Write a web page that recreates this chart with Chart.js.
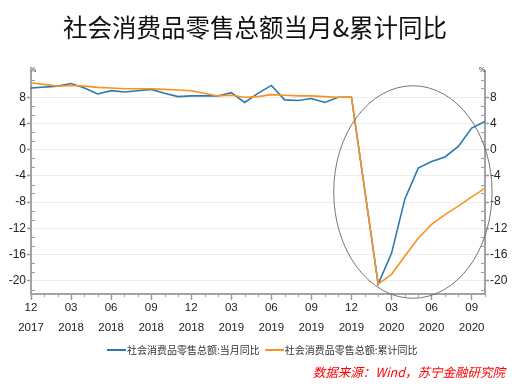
<!DOCTYPE html>
<html><head><meta charset="utf-8">
<script src="https://cdn.jsdelivr.net/npm/chart.js@4.4.0/dist/chart.umd.min.js"></script>
<style>
html,body{margin:0;padding:0;background:#fff;}
#wrap{position:relative;width:518px;height:387px;overflow:hidden;background:#fff;}
#c{position:absolute;left:0;top:0;}
#title{position:absolute;left:-4px;top:11px;width:518px;text-align:center;font:24.5px "Noto Sans CJK SC";color:#111;line-height:32px;white-space:nowrap;}
.pct{position:absolute;top:66px;font:bold 7px "Liberation Sans";color:#6a5a8a;}
#legend{position:absolute;left:107px;top:342px;font:10px "Noto Sans CJK SC";color:#333;white-space:nowrap;line-height:16px;}
#legend span.sw{display:inline-block;width:19px;height:2px;vertical-align:middle;margin-right:1px;position:relative;top:-1px;}
#legend .it{display:inline-block;margin-right:5px;}
#src{position:absolute;right:13px;top:363px;font:italic 12.5px "Noto Sans CJK SC";color:#ff0000;white-space:nowrap;line-height:18px;}
</style></head>
<body>
<div id="wrap">
<canvas id="c" width="518" height="387"></canvas>
<div id="title">社会消费品零售总额当月&amp;累计同比</div>
<div class="pct" style="left:30px">%</div>
<div class="pct" style="left:479px">%</div>
<div id="legend"><span class="it"><span class="sw" style="background:#2a7ab0"></span>社会消费品零售总额:当月同比</span><span class="it"><span class="sw" style="background:#f7931e"></span>社会消费品零售总额:累计同比</span></div>
<div id="src">数据来源：Wind，苏宁金融研究院</div>
</div>
<script>
const months = ['2017-12',
 '2018-01','2018-02','2018-03','2018-04','2018-05','2018-06','2018-07','2018-08','2018-09','2018-10','2018-11','2018-12',
 '2019-01','2019-02','2019-03','2019-04','2019-05','2019-06','2019-07','2019-08','2019-09','2019-10','2019-11','2019-12',
 '2020-01','2020-02','2020-03','2020-04','2020-05','2020-06','2020-07','2020-08','2020-09','2020-10'];
const monthlyYoY = [9.4,
 null,9.7,10.1,9.4,8.5,9.0,8.8,9.0,9.2,8.6,8.1,8.2,
 null,8.2,8.7,7.2,8.6,9.8,7.6,7.5,7.8,7.2,8.0,8.0,
 null,-20.5,-15.8,-7.5,-2.8,-1.8,-1.1,0.5,3.3,4.3];
const cumulativeYoY = [10.2,
 null,9.7,9.8,9.7,9.5,9.4,9.3,9.3,9.3,9.2,9.1,9.0,
 null,8.2,8.3,8.0,8.1,8.4,8.3,8.2,8.2,8.1,8.0,8.0,
 null,-20.5,-19.0,-16.2,-13.5,-11.4,-9.9,-8.6,-7.2,-5.9];
const yTicks = [-20,-16,-12,-8,-4,0,4,8];
const yMin = -22, yMax = 12;
const xTickEvery = 3;
// highlight ellipse (in data units: center index, center value, radii)
const ellipse = {cx:28.6, cy:-6.45, rx:5.93, ry:16.2};

const BLUE = '#2a7ab0', ORANGE = '#f7931e', AXIS = '#a3a3a3';

const extras = {
  id:'extras',
  afterDraw(chart){
    const ctx = chart.ctx, x = chart.scales.x, y = chart.scales.y, ca = chart.chartArea;
    ctx.save();
    ctx.strokeStyle = '#9a9a9a'; ctx.lineWidth = 1;
    for (let v = yMin+2/3; v <= yMax; v += 4/3) {
      const py = Math.round(y.getPixelForValue(v))+0.5;
      if (py < ca.top+2 || py > ca.bottom-2) continue;
      if (yTicks.some(t=>Math.abs(t-v)<0.01)) continue;
      ctx.beginPath(); ctx.moveTo(ca.left+1, py); ctx.lineTo(ca.left+4, py); ctx.stroke();
      ctx.beginPath(); ctx.moveTo(ca.right-4, py); ctx.lineTo(ca.right-1, py); ctx.stroke();
    }
    for (let i = 0; i < months.length; i++) {
      if (i % xTickEvery === 0) continue;
      const px = Math.round(x.getPixelForValue(i))+0.5;
      ctx.beginPath(); ctx.moveTo(px, ca.bottom+1); ctx.lineTo(px, ca.bottom+3); ctx.stroke();
    }
    const cx = x.getPixelForValue(ellipse.cx), cy = y.getPixelForValue(ellipse.cy);
    const rx = Math.abs(x.getPixelForValue(ellipse.cx+ellipse.rx)-cx);
    const ry = Math.abs(y.getPixelForValue(ellipse.cy+ellipse.ry)-cy);
    ctx.strokeStyle = '#666'; ctx.lineWidth = 0.9;
    ctx.beginPath(); ctx.ellipse(cx, cy, rx, ry, 0, 0, Math.PI*2); ctx.stroke();
    ctx.restore();
  }
};

new Chart(document.getElementById('c'), {
  type:'line',
  data:{
    labels: months,
    datasets:[
      {label:'社会消费品零售总额:累计同比', data:cumulativeYoY, borderColor:ORANGE, backgroundColor:ORANGE, borderWidth:1.6, pointRadius:0, tension:0, spanGaps:true, yAxisID:'y'},
      {label:'社会消费品零售总额:当月同比', data:monthlyYoY, borderColor:BLUE, backgroundColor:BLUE, borderWidth:1.6, pointRadius:0, tension:0, spanGaps:true, yAxisID:'y'}
    ]
  },
  options:{
    responsive:false, animation:false,
    layout:{padding:{top:71,left:0,right:0,bottom:0}},
    plugins:{legend:{display:false}, tooltip:{enabled:false}, title:{display:false}},
    scales:{
      x:{
        type:'category', offset:false,
        grid:{drawOnChartArea:false, tickLength:6, tickWidth:1.5,
          tickColor: c => (c.index % xTickEvery === 0 ? '#9a9a9a' : 'rgba(0,0,0,0)')},
        border:{color:AXIS, width:2},
        ticks:{autoSkip:false, maxRotation:0, minRotation:0, padding:-2, color:'#222',
          font:{family:'Liberation Sans', size:11.5, lineHeight:1.75},
          callback:(v,i)=>{ if (i % xTickEvery !== 0) return ''; const p = months[i].split('-'); return [p[1], p[0]]; }},
        afterFit:s=>{ s.height = 93; }
      },
      y:{
        position:'left', min:yMin, max:yMax,
        afterBuildTicks:s=>{ s.ticks = yTicks.map(v=>({value:v})); },
        grid:{color:'#ededed', lineWidth:1, tickColor:'#9a9a9a', tickLength:4, tickWidth:1.5},
        border:{color:AXIS, width:2},
        ticks:{padding:1, color:'#222', font:{family:'Liberation Sans', size:12}},
        afterFit:s=>{ s.width = 31; }
      },
      y2:{
        position:'right', min:yMin, max:yMax,
        afterBuildTicks:s=>{ s.ticks = yTicks.map(v=>({value:v})); },
        grid:{drawOnChartArea:false, tickColor:'#9a9a9a', tickLength:4, tickWidth:1.5},
        border:{color:AXIS, width:2},
        ticks:{padding:1, color:'#222', font:{family:'Liberation Sans', size:12}},
        afterFit:s=>{ s.width = 33; }
      }
    }
  },
  plugins:[extras]
});
</script>
</body></html>
